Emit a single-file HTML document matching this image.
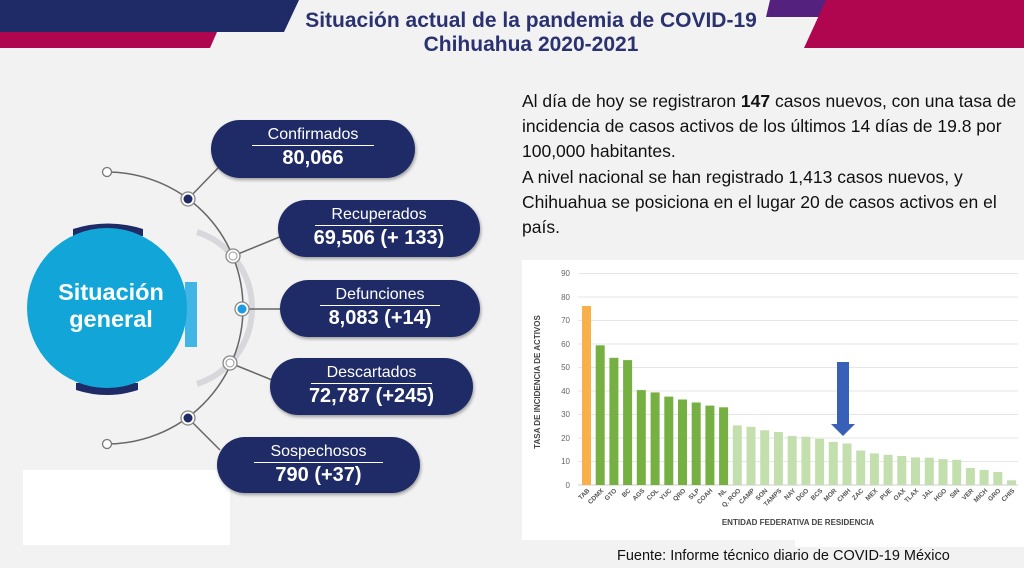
<!DOCTYPE html>
<html><head><meta charset="utf-8"><style>
html,body{margin:0;padding:0;}
body{width:1024px;height:568px;overflow:hidden;background:#f2f2f3;position:relative;font-family:"Liberation Sans",sans-serif;}
.abs{position:absolute;}
.title{left:0;width:1062px;text-align:center;color:#2b3270;font-weight:bold;font-size:21px;font-family:"Liberation Sans",sans-serif;}
.para{left:522px;top:89px;width:502px;font-size:17.5px;line-height:24.8px;color:#111;font-family:"Liberation Sans",sans-serif;}
.pill{position:absolute;background:#1f2b66;border-radius:29px;color:#fff;text-align:center;box-shadow:1px 2px 3px rgba(0,0,0,.35);font-family:"Liberation Sans",sans-serif;}
.pill .l{font-size:16px;margin-top:6px;display:inline-block;border-bottom:1px solid #fff;padding:0 16px 1px;line-height:18px;}
.pill .n{font-size:20px;font-weight:bold;line-height:24px;}
</style></head><body>
<svg class="abs" style="left:0;top:0" width="1024" height="568">
  <polygon points="0,0 299,0 284,32 0,32" fill="#1f2b66"/>
  <polygon points="0,32 217,32 210,48 0,48" fill="#b0064f"/>
  <polygon points="770,0 830,0 822,17 766,17" fill="#55217f"/>
  <polygon points="826,0 1024,0 1024,48 804,48" fill="#b0064f"/>
  <rect x="23" y="470" width="207" height="75" fill="#fff"/>
  <rect x="522" y="260" width="502" height="280" fill="#fff"/>
  <rect x="795" y="540" width="229" height="7" fill="#fff"/>
  <path d="M 197 232 A 80 80 0 0 1 197 384" stroke="#d8d8dc" stroke-width="6" fill="none"/>
  <path d="M 73 229 Q 108 218 143 229 L 143 236 L 73 236 Z" fill="#1f2b66"/>
  <path d="M 76 383 L 138 383 L 138 390 Q 107 400 76 390 Z" fill="#1f2b66"/>
  <rect x="185" y="282" width="12" height="65" fill="#41b6e6"/>
  <circle cx="107" cy="308" r="80" fill="#11a6d7"/>
  <text x="111" y="300" fill="#fff" font-size="23.5" font-weight="bold" text-anchor="middle" font-family="Liberation Sans, sans-serif">Situación</text>
  <text x="111" y="327" fill="#fff" font-size="23.5" font-weight="bold" text-anchor="middle" font-family="Liberation Sans, sans-serif">general</text>
  <path d="M 107 172 A 136 136 0 0 1 107 444" stroke="#666" stroke-width="1.5" fill="none"/>
  <g stroke="#666" stroke-width="1.5">
    <line x1="188" y1="199" x2="218" y2="168"/>
    <line x1="233" y1="256" x2="282" y2="236"/>
    <line x1="242" y1="309" x2="282" y2="309"/>
    <line x1="230" y1="363" x2="272" y2="380"/>
    <line x1="188" y1="418" x2="220" y2="450"/>
  </g>
  <circle cx="107" cy="172" r="4.5" fill="#fff" stroke="#777" stroke-width="1.3"/>
  <circle cx="107" cy="444" r="4.5" fill="#fff" stroke="#777" stroke-width="1.3"/>
  <circle cx="188" cy="199" r="7" fill="#fff" stroke="#888" stroke-width="1.3"/><circle cx="188" cy="199" r="4.5" fill="#1f2b66"/>
  <circle cx="188" cy="418" r="7" fill="#fff" stroke="#888" stroke-width="1.3"/><circle cx="188" cy="418" r="4.5" fill="#1f2b66"/>
  <circle cx="233" cy="256" r="7" fill="#fff" stroke="#888" stroke-width="1.3"/><circle cx="233" cy="256" r="4" fill="#fff" stroke="#999"/>
  <circle cx="230" cy="363" r="7" fill="#fff" stroke="#888" stroke-width="1.3"/><circle cx="230" cy="363" r="4" fill="#fff" stroke="#999"/>
  <circle cx="242" cy="309" r="7" fill="#fff" stroke="#888" stroke-width="1.3"/><circle cx="242" cy="309" r="4.5" fill="#1e9be0"/>
  <g stroke="#e6e6e6" stroke-width="1">
    <line x1="578" x2="1018" y1="273.5" y2="273.5"/><line x1="578" x2="1018" y1="297" y2="297"/>
    <line x1="578" x2="1018" y1="320.5" y2="320.5"/><line x1="578" x2="1018" y1="344" y2="344"/>
    <line x1="578" x2="1018" y1="367.5" y2="367.5"/><line x1="578" x2="1018" y1="391" y2="391"/>
    <line x1="578" x2="1018" y1="414.5" y2="414.5"/><line x1="578" x2="1018" y1="438" y2="438"/>
    <line x1="578" x2="1018" y1="461.5" y2="461.5"/>
  </g>
  <line x1="578" x2="1018" y1="485" y2="485" stroke="#ccc"/>
  <g font-size="8" fill="#666" text-anchor="end" font-family="Liberation Sans, sans-serif">
    <text x="570" y="276">90</text><text x="570" y="300">80</text><text x="570" y="323">70</text>
    <text x="570" y="347">60</text><text x="570" y="370">50</text><text x="570" y="394">40</text>
    <text x="570" y="417">30</text><text x="570" y="441">20</text><text x="570" y="464">10</text><text x="570" y="488">0</text>
  </g>
  <rect x="582" y="306" width="9" height="179" fill="#f8b04a"/>
  <g fill="#76b043">
    <rect x="595.7" y="345.3" width="9" height="139.7"/><rect x="609.4" y="357.8" width="9" height="127.2"/>
    <rect x="623.1" y="360.1" width="9" height="124.9"/><rect x="636.8" y="390.1" width="9" height="94.9"/>
    <rect x="650.6" y="392.4" width="9" height="92.6"/><rect x="664.3" y="396.6" width="9" height="88.4"/>
    <rect x="678" y="399.5" width="9" height="85.5"/><rect x="691.7" y="402.5" width="9" height="82.5"/>
    <rect x="705.4" y="405.6" width="9" height="79.4"/><rect x="719.1" y="407.3" width="9" height="77.7"/>
  </g>
  <g fill="#c4dfae">
    <rect x="732.8" y="425.4" width="9" height="59.6"/><rect x="746.5" y="426.8" width="9" height="58.2"/>
    <rect x="760.2" y="430.3" width="9" height="54.7"/><rect x="773.9" y="432" width="9" height="53"/>
    <rect x="787.7" y="436" width="9" height="49"/><rect x="801.4" y="436.7" width="9" height="48.3"/>
    <rect x="815.1" y="438.8" width="9" height="46.2"/><rect x="828.8" y="441.9" width="9" height="43.1"/>
    <rect x="842.5" y="443.5" width="9" height="41.5"/><rect x="856.2" y="450.6" width="9" height="34.4"/>
    <rect x="869.9" y="453.4" width="9" height="31.6"/><rect x="883.6" y="454.8" width="9" height="30.2"/>
    <rect x="897.3" y="456" width="9" height="29"/><rect x="911" y="457.4" width="9" height="27.6"/>
    <rect x="924.8" y="457.7" width="9" height="27.3"/><rect x="938.5" y="459.1" width="9" height="25.9"/>
    <rect x="952.2" y="459.8" width="9" height="25.2"/><rect x="965.9" y="468" width="9" height="17"/>
    <rect x="979.6" y="469.9" width="9" height="15.1"/><rect x="993.3" y="472" width="9" height="13"/>
    <rect x="1007" y="480.3" width="9" height="4.7"/>
  </g>
  <polygon points="837,362 849,362 849,424 855,424 843,436 831,424 837,424" fill="#3860b8"/>
  <g font-size="6.5" font-weight="bold" fill="#555" text-anchor="end" font-family="Liberation Sans, sans-serif">
    <text transform="translate(590,491) rotate(-45)">TAB</text>
    <text transform="translate(604,491) rotate(-45)">CDMX</text>
    <text transform="translate(617,491) rotate(-45)">GTO</text>
    <text transform="translate(631,491) rotate(-45)">BC</text>
    <text transform="translate(645,491) rotate(-45)">AGS</text>
    <text transform="translate(659,491) rotate(-45)">COL</text>
    <text transform="translate(672,491) rotate(-45)">YUC</text>
    <text transform="translate(686,491) rotate(-45)">QRO</text>
    <text transform="translate(700,491) rotate(-45)">SLP</text>
    <text transform="translate(713,491) rotate(-45)">COAH</text>
    <text transform="translate(727,491) rotate(-45)">NL</text>
    <text transform="translate(741,491) rotate(-45)">Q. ROO</text>
    <text transform="translate(755,491) rotate(-45)">CAMP</text>
    <text transform="translate(768,491) rotate(-45)">SON</text>
    <text transform="translate(782,491) rotate(-45)">TAMPS</text>
    <text transform="translate(796,491) rotate(-45)">NAY</text>
    <text transform="translate(809,491) rotate(-45)">DGO</text>
    <text transform="translate(823,491) rotate(-45)">BCS</text>
    <text transform="translate(837,491) rotate(-45)">MOR</text>
    <text transform="translate(851,491) rotate(-45)">CHIH</text>
    <text transform="translate(864,491) rotate(-45)">ZAC</text>
    <text transform="translate(878,491) rotate(-45)">MEX</text>
    <text transform="translate(892,491) rotate(-45)">PUE</text>
    <text transform="translate(906,491) rotate(-45)">OAX</text>
    <text transform="translate(919,491) rotate(-45)">TLAX</text>
    <text transform="translate(933,491) rotate(-45)">JAL</text>
    <text transform="translate(947,491) rotate(-45)">HGO</text>
    <text transform="translate(960,491) rotate(-45)">SIN</text>
    <text transform="translate(974,491) rotate(-45)">VER</text>
    <text transform="translate(988,491) rotate(-45)">MICH</text>
    <text transform="translate(1001,491) rotate(-45)">GRO</text>
    <text transform="translate(1015,491) rotate(-45)">CHIS</text>
  </g>
  <text x="798" y="525" font-size="8" font-weight="bold" fill="#444" text-anchor="middle" font-family="Liberation Sans, sans-serif">ENTIDAD FEDERATIVA DE RESIDENCIA</text>
  <text transform="translate(540,382) rotate(-90)" font-size="8" font-weight="bold" fill="#444" text-anchor="middle" font-family="Liberation Sans, sans-serif">TASA DE INCIDENCIA DE ACTIVOS</text>
  <text x="617" y="560" font-size="14.5" fill="#111" font-family="Liberation Sans, sans-serif">Fuente: Informe técnico diario de COVID-19 México</text>
</svg>
<div class="abs title" style="top:9px;">Situación actual de la pandemia de COVID-19</div>
<div class="abs title" style="top:33px;">Chihuahua 2020-2021</div>
<div class="abs para">Al día de hoy se registraron <b>147</b> casos nuevos, con una tasa de incidencia de casos activos de los últimos 14 días de 19.8 por 100,000 habitantes.<br><span style="display:block;margin-top:2px">A nivel nacional se han registrado 1,413 casos nuevos, y Chihuahua se posiciona en el lugar 20 de casos activos en el país.</span></div>
<div class="pill" style="left:211px;top:120px;width:204px;height:58px;"><span class="l">Confirmados</span><div class="n">80,066</div></div>
<div class="pill" style="left:278px;top:200px;width:202px;height:57px;"><span class="l">Recuperados</span><div class="n">69,506 (+ 133)</div></div>
<div class="pill" style="left:280px;top:280px;width:200px;height:57px;"><span class="l">Defunciones</span><div class="n">8,083 (+14)</div></div>
<div class="pill" style="left:270px;top:358px;width:203px;height:57px;"><span class="l">Descartados</span><div class="n">72,787 (+245)</div></div>
<div class="pill" style="left:217px;top:437px;width:203px;height:56px;"><span class="l">Sospechosos</span><div class="n">790 (+37)</div></div>
</body></html>
